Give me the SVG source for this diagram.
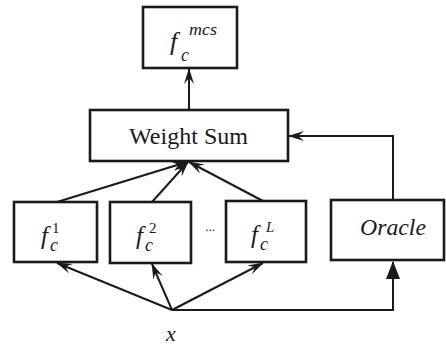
<svg xmlns="http://www.w3.org/2000/svg" width="446" height="347" viewBox="0 0 446 347">
<defs>
<style>
.box{fill:#fff;stroke:#1a1a1a;stroke-width:2.6}
.ln{fill:none;stroke:#1a1a1a;stroke-width:2}
text{font-family:'Times New Roman','Liberation Serif','DejaVu Serif',serif;fill:#1a1a1a}
.i{font-style:italic}
</style>
<marker id="barb" viewBox="-16 -6 18 12" refX="0" refY="0" markerWidth="18" markerHeight="12" markerUnits="userSpaceOnUse" orient="auto">
<path d="M1,0 L-15,-5 L-9,0 L-15,5 Z" fill="#1a1a1a"/>
</marker>
<marker id="tri" viewBox="-18 -8 20 16" refX="0" refY="0" markerWidth="20" markerHeight="16" markerUnits="userSpaceOnUse" orient="auto">
<path d="M1,0 L-17,-7 L-17,7 Z" fill="#1a1a1a"/>
</marker>
</defs>
<g id="connectors">
<line class="ln" x1="57" y1="202" x2="187" y2="162" marker-end="url(#barb)"/>
<line class="ln" x1="152" y1="202" x2="188" y2="162" marker-end="url(#barb)"/>
<line class="ln" x1="263" y1="201" x2="189" y2="162" marker-end="url(#barb)"/>
<line class="ln" x1="189" y1="110" x2="189" y2="69" marker-end="url(#barb)"/>
<polyline class="ln" points="393,200 393,136 289,136" marker-end="url(#barb)"/>
<line class="ln" x1="172" y1="310" x2="57" y2="263" marker-end="url(#barb)"/>
<line class="ln" x1="172" y1="310" x2="152" y2="264" marker-end="url(#barb)"/>
<line class="ln" x1="172" y1="310" x2="263" y2="263" marker-end="url(#barb)"/>
<polyline class="ln" points="172,310 393,310 393,262" marker-end="url(#tri)"/>
</g>
<g id="fmcs">
<rect class="box" x="143" y="7" width="94" height="61"/>
<text class="i" x="170" y="50" font-size="26">f</text>
<text class="i" x="181" y="61" font-size="18">c</text>
<text class="i" x="189" y="35" font-size="17" textLength="28" lengthAdjust="spacingAndGlyphs">mcs</text>
</g>
<g id="weightsum">
<rect class="box" x="90" y="110" width="198" height="51"/>
<text x="129" y="144" font-size="23.5" textLength="119" lengthAdjust="spacingAndGlyphs">Weight Sum</text>
</g>
<g id="f1">
<rect class="box" x="14" y="202" width="83" height="60"/>
<text class="i" x="41" y="244" font-size="25">f</text>
<text class="i" x="50" y="251" font-size="18">c</text>
<text x="52" y="233" font-size="15">1</text>
</g>
<g id="f2">
<rect class="box" x="110" y="202" width="81" height="61"/>
<text class="i" x="136" y="244" font-size="25">f</text>
<text class="i" x="145" y="251" font-size="18">c</text>
<text x="149" y="233" font-size="15">2</text>
</g>
<text x="210" y="231" font-size="13" fill="#666" text-anchor="middle">...</text>
<g id="fL">
<rect class="box" x="226" y="201" width="80" height="61"/>
<text class="i" x="251" y="243" font-size="25">f</text>
<text class="i" x="260" y="250" font-size="18">c</text>
<text class="i" x="266" y="232" font-size="15">L</text>
</g>
<g id="oracle">
<rect class="box" x="331" y="200" width="113" height="60"/>
<text class="i" x="360" y="235" font-size="23.5" textLength="66" lengthAdjust="spacingAndGlyphs">Oracle</text>
</g>
<g id="x">
<text class="i" x="171" y="341" font-size="22" text-anchor="middle">x</text>
</g>
</svg>
